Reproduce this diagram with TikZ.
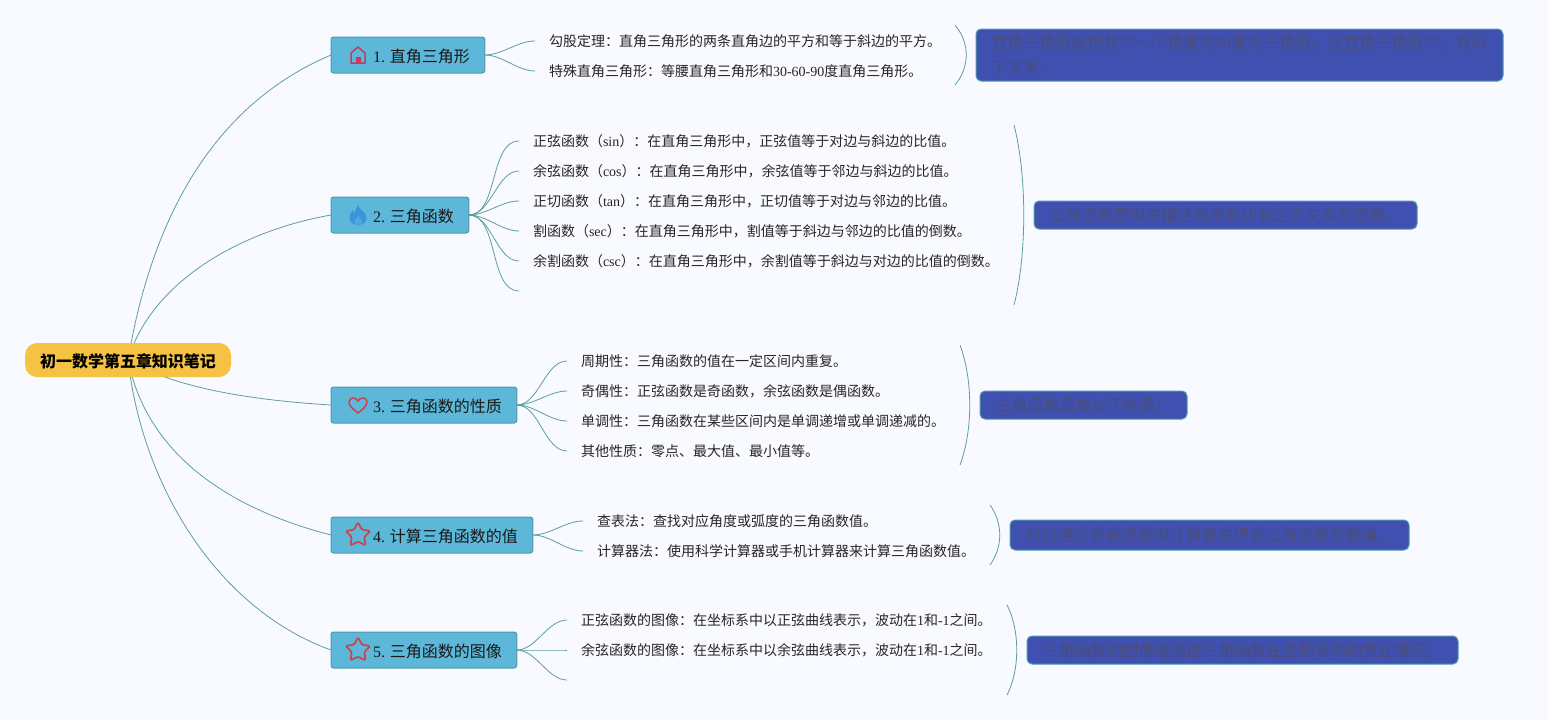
\documentclass[tikz,border=0pt]{standalone}
\usepackage{fontspec}
\setmainfont{Noto Sans CJK SC}
\newfontfamily\latfont{Liberation Serif}
\newcommand{\lat}[1]{{\latfont #1}}
\usepackage{xcolor}
\usetikzlibrary{positioning,backgrounds}
\definecolor{pagebg}{HTML}{F8FAFF}
\definecolor{rootfill}{HTML}{F6C244}
\definecolor{branchfill}{HTML}{5CB7D9}
\definecolor{branchline}{HTML}{4F9AA8}
\definecolor{linkcol}{HTML}{5F9F95}
\definecolor{notefill}{HTML}{3F50B0}
\definecolor{notetext}{HTML}{4A4E78}
\definecolor{redicon}{HTML}{CC4448}
\definecolor{houseicon}{HTML}{C83A5C}
\definecolor{flameicon}{HTML}{3A93DC}
\tikzset{
    rootbox/.style={fill=rootfill, rounded corners=12pt, minimum width=206pt, minimum height=34pt, inner sep=0pt, outer sep=0pt, text height=16pt, text depth=2pt, font=\fontsize{16}{16}\selectfont\bfseries, text=black},
    branchbox/.style={draw=branchline, fill=branchfill, line width=1pt, rounded corners=2.5pt, anchor=west, minimum height=36pt, inner xsep=15pt, inner ysep=0pt, outer sep=0pt, text height=16pt, text depth=2pt, font=\fontsize{16}{16}\selectfont, text=black!90},
    leaftext/.style={anchor=west, inner xsep=14pt, inner ysep=0pt, outer sep=0pt, font=\fontsize{14}{14}\selectfont, text=black!85},
    notebox/.style={draw=branchline, fill=notefill, line width=1pt, rounded corners=5pt, anchor=west, inner xsep=15.5pt, inner ysep=0pt, outer sep=0pt, align=left, font=\fontsize{16}{25}\selectfont, text=notetext},
    link/.style={draw=linkcol, line width=0.8pt},
    leaflink/.style={out=0, in=180, looseness=0.85},
    houseicon/.pic={
        \draw[houseicon, line width=1.5pt, line join=round] (-7,8) -- (-7,-2) -- (0,-8) -- (7,-2) -- (7,8) -- cycle;
        \fill[houseicon] (-2.5,2) rectangle (2.5,8);
    },
    flameicon/.pic={
        \fill[flameicon] (0.5,-10) .. controls (1,-5) and (8.5,-3) .. (8.5,3) .. controls (8.5,8) and (4,10) .. (0,10) .. controls (-5,10) and (-8.5,7) .. (-8.5,2) .. controls (-8.5,-1) and (-6,-3) .. (-5,-5) .. controls (-5,-3) and (-4,-2) .. (-3,-2) .. controls (-3,-5) and (-2,-8) .. (0.5,-10) -- cycle;
        \fill[branchfill!60!flameicon] (0.5,1) .. controls (1,3) and (4,4) .. (4,6.5) .. controls (4,9) and (2,10) .. (0,10) .. controls (-2,10) and (-4,9) .. (-4,6.5) .. controls (-4,4) and (-1,3) .. (0.5,1) -- cycle;
    },
    hearticon/.pic={
        \draw[redicon, line width=1.5pt, line join=round] (0,8) .. controls (-5,4) and (-9,1) .. (-9,-3) .. controls (-9,-6) and (-6.5,-7) .. (-5,-7) .. controls (-3,-7) and (-1,-6) .. (0,-4) .. controls (1,-6) and (3,-7) .. (5,-7) .. controls (6.5,-7) and (9,-6) .. (9,-3) .. controls (9,1) and (5,4) .. (0,8) -- cycle;
    },
    staricon/.pic={
        \draw[redicon, line width=1.7pt, line join=round, rounded corners=1.5pt] (-90:13) -- (-54:6.5) -- (-18:13) -- (18:6.5) -- (54:13) -- (90:6.5) -- (126:13) -- (162:6.5) -- (198:13) -- (234:6.5) -- cycle;
    }
}
\begin{document}
\begin{tikzpicture}[x=1pt, y=-1pt]
    \useasboundingbox (0,0) rectangle (1548,720);
    \begin{scope}[on background layer]
        \fill[pagebg] (0,0) rectangle (1548,720);
    \end{scope}

    % centre and main branches
    \node [rootbox] (root) at (128,360) {初一数学第五章知识笔记};
    \node [branchbox] (tri) at (331,55) {\hspace*{27pt}\lat{1.} 直角三角形};
    \node [branchbox] (func) at (331,215) {\hspace*{27pt}\lat{2.} 三角函数};
    \node [branchbox] (prop) at (331,405) {\hspace*{27pt}\lat{3.} 三角函数的性质};
    \node [branchbox] (calc) at (331,535) {\hspace*{27pt}\lat{4.} 计算三角函数的值};
    \node [branchbox] (graph) at (331,650) {\hspace*{27pt}\lat{5.} 三角函数的图像};

    % icons
    \pic at (358,55) {houseicon};
    \pic at (358,215) {flameicon};
    \pic at (358,405) {hearticon};
    \pic at (358,535) {staricon};
    \pic at (358,650) {staricon};

    % leaves
    \node [leaftext] (tri1) at (535,41) {勾股定理：直角三角形的两条直角边的平方和等于斜边的平方。};
    \node [leaftext] (tri2) at (535,71) {特殊直角三角形：等腰直角三角形和\lat{30-60-90}度直角三角形。};

    \node [leaftext] (func1) at (519,141) {正弦函数（\lat{sin}）：在直角三角形中，正弦值等于对边与斜边的比值。};
    \node [leaftext] (func2) at (519,171) {余弦函数（\lat{cos}）：在直角三角形中，余弦值等于邻边与斜边的比值。};
    \node [leaftext] (func3) at (519,201) {正切函数（\lat{tan}）：在直角三角形中，正切值等于对边与邻边的比值。};
    \node [leaftext] (func4) at (519,231) {割函数（\lat{sec}）：在直角三角形中，割值等于斜边与邻边的比值的倒数。};
    \node [leaftext] (func5) at (519,261) {余割函数（\lat{csc}）：在直角三角形中，余割值等于斜边与对边的比值的倒数。};
    \coordinate (func6) at (519,291);

    \node [leaftext] (prop1) at (567,361) {周期性：三角函数的值在一定区间内重复。};
    \node [leaftext] (prop2) at (567,391) {奇偶性：正弦函数是奇函数，余弦函数是偶函数。};
    \node [leaftext] (prop3) at (567,421) {单调性：三角函数在某些区间内是单调递增或单调递减的。};
    \node [leaftext] (prop4) at (567,451) {其他性质：零点、最大值、最小值等。};

    \node [leaftext] (calc1) at (583,521) {查表法：查找对应角度或弧度的三角函数值。};
    \node [leaftext] (calc2) at (583,551) {计算器法：使用科学计算器或手机计算器来计算三角函数值。};

    \node [leaftext] (graph1) at (567,620) {正弦函数的图像：在坐标系中以正弦曲线表示，波动在\lat{1}和\lat{-1}之间。};
    \node [leaftext] (graph2) at (567,650) {余弦函数的图像：在坐标系中以余弦曲线表示，波动在\lat{1}和\lat{-1}之间。};
    \coordinate (graph3) at (567,680);

    % summaries
    \node [notebox, minimum height=52pt] (trinote) at (976,55) {直角三角形是指其中一个角度为\lat{90}度的三角形。在直角三角形中，有以\\下关系：};
    \node [notebox, minimum height=28pt] (funcnote) at (1034,215) {三角函数是用来描述角度和边长之间关系的函数。};
    \node [notebox, minimum height=28pt] (propnote) at (980,405) {三角函数具有以下性质：};
    \node [notebox, minimum height=30pt] (calcnote) at (1010,535) {可以通过查表或使用计算器来得到三角函数的数值。};
    \node [notebox, minimum height=28pt] (graphnote) at (1027,650) {三角函数的图像是描述三角函数在坐标系中的变化情况。};

    % bracket ends
    \coordinate (tritop) at (955,25);
    \coordinate (tribot) at (955,85);
    \coordinate (functop) at (1014,125);
    \coordinate (funcbot) at (1014,305);
    \coordinate (proptop) at (960,345);
    \coordinate (propbot) at (960,465);
    \coordinate (calctop) at (990,505);
    \coordinate (calcbot) at (990,565);
    \coordinate (graphtop) at (1007,605);
    \coordinate (graphbot) at (1007,695);

    \begin{scope}[on background layer]
        \draw [link] (root.center) .. controls (155,200) and (225,100) .. (tri.west);
        \draw [link] (root.center) .. controls (150,285) and (235,232) .. (func.west);
        \draw [link] (root.center) .. controls (175,388) and (250,400) .. (prop.west);
        \draw [link] (root.center) .. controls (145,445) and (215,505) .. (calc.west);
        \draw [link] (root.center) .. controls (143,490) and (220,610) .. (graph.west);

        \draw [link] (tri.east) to[leaflink] (tri1.west);
        \draw [link] (tri.east) to[leaflink] (tri2.west);
        \draw [link] (func.east) to[leaflink] (func1.west);
        \draw [link] (func.east) to[leaflink] (func2.west);
        \draw [link] (func.east) to[leaflink] (func3.west);
        \draw [link] (func.east) to[leaflink] (func4.west);
        \draw [link] (func.east) to[leaflink] (func5.west);
        \draw [link] (func.east) to[leaflink] (func6);
        \draw [link] (prop.east) to[leaflink] (prop1.west);
        \draw [link] (prop.east) to[leaflink] (prop2.west);
        \draw [link] (prop.east) to[leaflink] (prop3.west);
        \draw [link] (prop.east) to[leaflink] (prop4.west);
        \draw [link] (calc.east) to[leaflink] (calc1.west);
        \draw [link] (calc.east) to[leaflink] (calc2.west);
        \draw [link] (graph.east) to[leaflink] (graph1.west);
        \draw [link] (graph.east) to[leaflink] (graph2.west);
        \draw [link] (graph.east) to[leaflink] (graph3);

        \draw [link] (tritop) .. controls +(15,18) and +(15,-18) .. (tribot);
        \draw [link] (functop) .. controls +(13,50) and +(13,-50) .. (funcbot);
        \draw [link] (proptop) .. controls +(13,35) and +(13,-35) .. (propbot);
        \draw [link] (calctop) .. controls +(13,18) and +(13,-18) .. (calcbot);
        \draw [link] (graphtop) .. controls +(13,25) and +(13,-25) .. (graphbot);
    \end{scope}
\end{tikzpicture}
\end{document}
